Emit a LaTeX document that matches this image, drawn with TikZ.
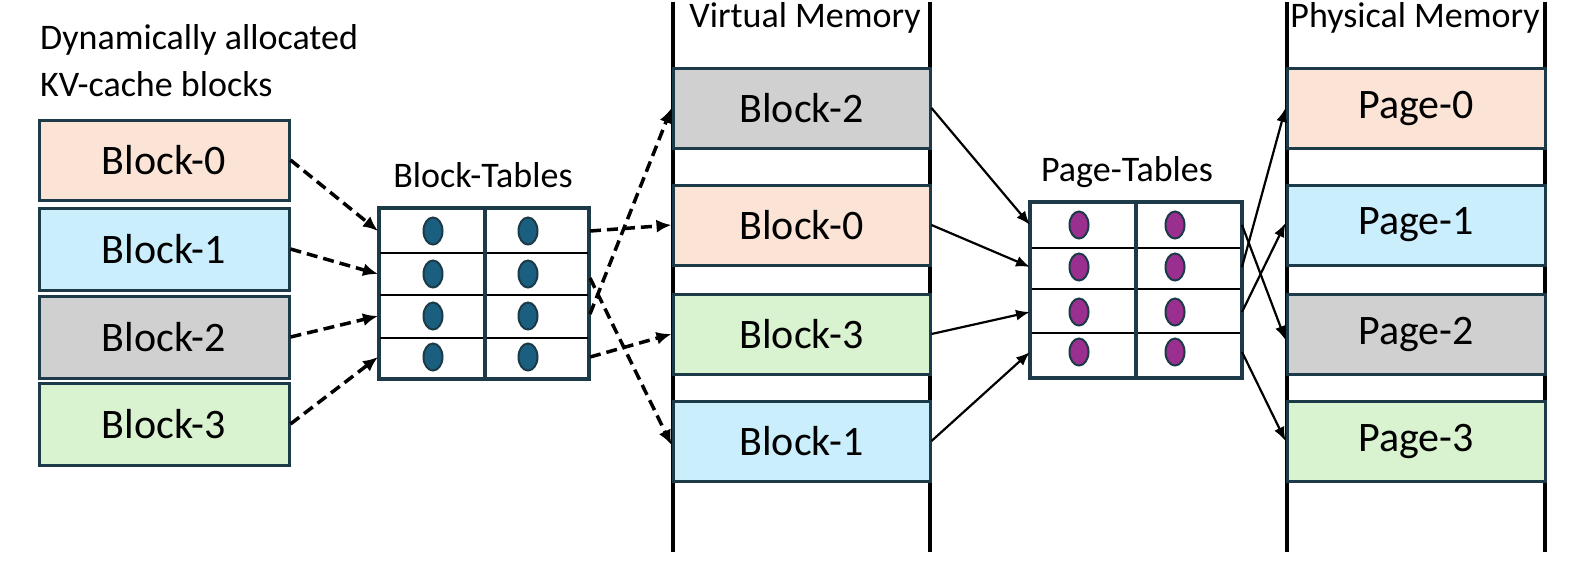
\documentclass[tikz,border=0pt]{standalone}
\usepackage{fontspec}
\setmainfont{Carlito}
\usetikzlibrary{arrows.meta,shapes.geometric}
\definecolor{peach}{HTML}{FBE3D6}
\definecolor{lblue}{HTML}{CAEEFB}
\definecolor{lgray}{HTML}{D0D0D0}
\definecolor{lgreen}{HTML}{D9F2D0}
\definecolor{bord}{HTML}{1C3A48}
\definecolor{oblue}{HTML}{1A5F80}
\definecolor{opurp}{HTML}{9B2F90}
\begin{document}
\begin{tikzpicture}[x=1pt,y=-1pt,
  blk/.style={draw=bord,line width=3pt,minimum width=250pt,minimum height=80pt,inner sep=0pt,font=\fontsize{42}{48}\selectfont},
  ttl/.style={font=\fontsize{36}{40}\selectfont,inner sep=0pt},
  dsh/.style={line width=3.5pt,dashed,dash pattern=on 11pt off 6pt,-{Latex[length=15pt,width=13pt]}},
  sol/.style={line width=2.2pt,-{Latex[length=14pt,width=11pt]}},
  ov/.style={draw=bord,line width=2pt,ellipse,minimum width=19pt,minimum height=27pt,inner sep=0pt},
  tab/.style={draw=bord,line width=3.5pt,fill=white,inner sep=0pt}]
\useasboundingbox (0,0) rectangle (1578,566);
% left
\node[ttl,anchor=west] (t1) at (40,40) {Dynamically allocated};
\node[ttl,anchor=west] (t2) at (40,84) {KV-cache blocks};
\node[blk,fill=peach,minimum height=80pt] (L0) at (164,160) {Block-0};
\node[blk,fill=lblue,minimum height=82pt] (L1) at (164,249) {Block-1};
\node[blk,fill=lgray,minimum height=82pt] (L2) at (164,337) {Block-2};
\node[blk,fill=lgreen,minimum height=82pt] (L3) at (164,424) {Block-3};
% block table
\node[ttl] (btt) at (483,175) {Block-Tables};
\node[tab,minimum width=210pt,minimum height=171pt] (BT) at (484,293.5) {};
\foreach \yy in {253,295,338} \draw[line width=2.5pt] (380,\yy) -- (588,\yy);
\draw[line width=3.5pt,draw=bord] (485,208) -- (485,379);
\foreach \yy [count=\i] in {231,274,316,357}{
  \node[ov,fill=oblue] (bo\i a) at (433,\yy) {};
  \node[ov,fill=oblue] (bo\i b) at (528,\yy) {};
  \coordinate (bl\i) at (378,\yy);
  \coordinate (br\i) at (590,\yy);}
% virtual memory
\node[ttl] (vmt) at (805,18) {Virtual Memory};
\draw[line width=3.5pt] (673,2) coordinate (v1) -- (673,552);
\draw[line width=3.5pt] (930,2) coordinate (v2) -- (930,552);
\node[blk,fill=lgray,minimum width=257pt] (V2) at (801.5,108) {Block-2};
\node[blk,fill=peach,minimum width=257pt] (V0) at (801.5,225) {Block-0};
\node[blk,fill=lgreen,minimum width=257pt] (V3) at (801.5,334) {Block-3};
\node[blk,fill=lblue,minimum width=257pt] (V1) at (801.5,441) {Block-1};
% page table
\node[ttl] (ptt) at (1127,172) {Page-Tables};
\node[tab,minimum width=212pt,minimum height=176pt] (PT) at (1136,290) {};
\foreach \yy in {248,289,333} \draw[line width=2.5pt] (1032,\yy) -- (1240,\yy);
\draw[line width=3.5pt,draw=bord] (1136,203) -- (1136,377);
\foreach \yy [count=\i] in {225,267,312,352}{
  \node[ov,fill=opurp] (po\i a) at (1079,\yy) {};
  \node[ov,fill=opurp] (po\i b) at (1175,\yy) {};
  \coordinate (pl\i) at (1030,\yy);
  \coordinate (pr\i) at (1242,\yy);}
% physical memory
\node[ttl] (pmt) at (1415,18) {Physical Memory};
\draw[line width=3.5pt] (1287,2) -- (1287,552);
\draw[line width=3.5pt] (1545,2) -- (1545,552);
\node[blk,fill=peach,minimum width=258pt] (P0) at (1416,108) {Page-0};
\node[blk,fill=lblue,minimum width=258pt] (P1) at (1416,225) {Page-1};
\node[blk,fill=lgray,minimum width=258pt] (P2) at (1416,334) {Page-2};
\node[blk,fill=lgreen,minimum width=258pt] (P3) at (1416,441) {Page-3};
% dashed arrows
\draw[dsh] (L0.east) -- (bl1);
\draw[dsh] (L1.east) -- (bl2);
\draw[dsh] (L2.east) -- (bl3);
\draw[dsh] (L3.east) -- (bl4);
\draw[dsh] (br1) -- (V0.west);
\draw[dsh] ([yshift=-4pt]br2) -- ([yshift=-4pt]V1.west);
\draw[dsh] ([yshift=2pt]br3) -- (V2.west);
\draw[dsh] (br4) -- (V3.west);
% solid arrows
\draw[sol] (V2.east) -- (pl1);
\draw[sol] (V0.east) -- (pl2);
\draw[sol] (V3.east) -- (pl3);
\draw[sol] (V1.east) -- (pl4);
\draw[sol] (pr1) -- ([yshift=-6pt]P2.west);
\draw[sol] (pr2) -- (P0.west);
\draw[sol] (pr3) -- ([yshift=2pt]P1.west);
\draw[sol] (pr4) -- (P3.west);
\end{tikzpicture}
\end{document}
